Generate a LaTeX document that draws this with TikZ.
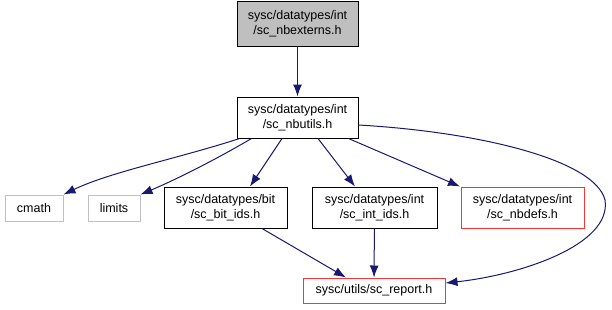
\documentclass[tikz,border=0pt]{standalone}
\usepackage{fontspec}
\setmainfont{Liberation Sans}
\usetikzlibrary{arrows.meta}
\definecolor{edgeblue}{HTML}{191970}
\definecolor{boxred}{HTML}{FF3333}
\definecolor{boxgray}{HTML}{BFBFBF}
\tikzset{
  x=1pt,y=-1pt,
  file/.style={draw=black,line width=1pt,inner sep=0pt,align=center,font=\fontsize{12.5}{14.5}\selectfont},
  cur/.style={file,fill=boxgray},
  ext/.style={file,draw=boxgray},
  redf/.style={file,draw=boxred},
  dep/.style={draw=edgeblue,line width=1pt,-{Latex[length=12pt,width=9pt]}},
}
\begin{document}
\begin{tikzpicture}
\useasboundingbox (0,0) rectangle (612,309);
\node[cur,minimum width=121,minimum height=45] (top) at (297.5,23.5) {sysc/datatypes/int\\/sc\_nbexterns.h};
\node[file,minimum width=121,minimum height=41] (nbu) at (297.5,117.5) {sysc/datatypes/int\\/sc\_nbutils.h};
\node[ext,minimum width=58,minimum height=26] (cmath) at (34,208) {cmath};
\node[ext,minimum width=52,minimum height=26] (limits) at (114,208) {limits};
\node[file,minimum width=123,minimum height=41] (bit) at (225.5,207.5) {sysc/datatypes/bit\\/sc\_bit\_ids.h};
\node[file,minimum width=125,minimum height=41] (int) at (374.5,207.5) {sysc/datatypes/int\\/sc\_int\_ids.h};
\node[redf,minimum width=123,minimum height=41] (nbd) at (522.5,207.5) {sysc/datatypes/int\\/sc\_nbdefs.h};
\node[redf,minimum width=142,minimum height=25] (rep) at (374,290.5) {sysc/utils/sc\_report.h};
\draw[dep] (top) -- (nbu);
\draw[dep] ([xshift=3pt]nbu.south west) .. controls (180,158) and (110,172) .. (cmath.north east);
\draw[dep] ([xshift=15pt]nbu.south west) .. controls (215,160) and (175,180) .. (limits.north east);
\draw[dep] ([xshift=-15.5pt]nbu.south) -- ([xshift=24.5pt]bit.north);
\draw[dep] ([xshift=20.5pt]nbu.south) -- ([xshift=-19.5pt]int.north);
\draw[dep] ([xshift=-10pt]nbu.south east) -- ([xshift=-0.5pt]nbd.north west);
\draw[dep] ([yshift=-7.5pt]nbu.east) .. controls (480,132) and (595,160) .. (605,200) .. controls (612,245) and (520,275) .. ([yshift=7.5pt]rep.east);
\draw[dep] ([xshift=36.5pt]bit.south) -- ([xshift=-28pt]rep.north);
\draw[dep] (int) -- (rep);
\end{tikzpicture}
\end{document}
